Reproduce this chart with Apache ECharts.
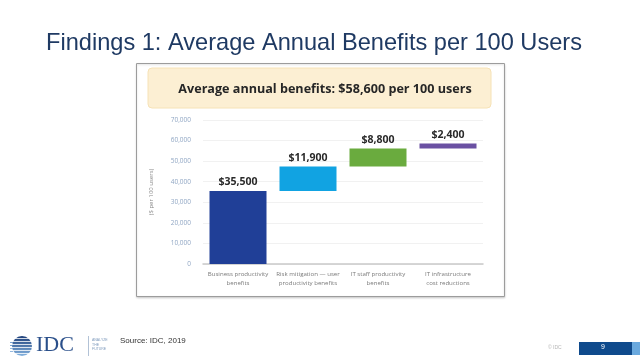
<!DOCTYPE html>
<html>
<head>
<meta charset="utf-8">
<script src="https://cdn.jsdelivr.net/npm/echarts@6/dist/echarts.min.js"></script>
<style>
  html, body { margin: 0; padding: 0; background: #fff; }
  #main { width: 640px; height: 360px; }
</style>
</head>
<body>
<div id="main"></div>
<script>
// data
const categories = [
  'Business productivity\nbenefits',
  'Risk mitigation \u2014 user\nproductivity benefits',
  'IT staff productivity\nbenefits',
  'IT infrastructure\ncost reductions'
];
const benefits = [35500, 11900, 8800, 2400];
const barColors = ['#203f97', '#11a3e2', '#6aab3e', '#6a50a2'];
const yTicks = [0, 10000, 20000, 30000, 40000, 50000, 60000, 70000];

// waterfall base = running total of previous steps
const base = [];
let run = 0;
benefits.forEach(v => { base.push(run); run += v; });

const fmt = n => n.toLocaleString('en-US');

const chart = echarts.init(document.getElementById('main'));

chart.setOption({
  animation: false,
  backgroundColor: '#ffffff',
  title: [
    {
      text: 'Findings 1: Average Annual Benefits per 100 Users',
      left: 41,
      top: 26,
      textStyle: {
        fontFamily: 'Liberation Sans',
        fontSize: 23.6,
        fontWeight: 'normal',
        color: '#1f3a63'
      }
    },
    {
      text: 'Average annual benefits: $58,600 per 100 users',
      left: 320,
      top: 78,
      textAlign: 'center',
      textStyle: {
        fontFamily: 'Open Sans',
        fontSize: 12.6,
        fontWeight: 'bold',
        color: '#262626'
      }
    }
  ],
  graphic: [
    // picture frame
    { type: 'rect', z: -10, shape: { x: 136.5, y: 63.5, width: 368, height: 233 },
      style: { fill: '#fff', stroke: '#9c9c9c', lineWidth: 1, shadowBlur: 2, shadowColor: 'rgba(0,0,0,0.15)', shadowOffsetY: 1 } },
    // banner
    { type: 'rect', z: -5, shape: { x: 148, y: 68, width: 343, height: 40, r: 4 },
      style: { fill: '#fcefd3', stroke: '#f6e2b6', lineWidth: 1 } },
    // IDC globe stripes
    { type: 'group', left: 9, top: 336, children: [
      { type: 'circle', shape: { cx: 13, cy: 10, r: 10 },
        style: { fill: new echarts.graphic.LinearGradient(0, 0, 0, 1, [
          { offset: 0, color: '#1b3d78' }, { offset: 1, color: '#86b4e0' }]) } },
      { type: 'rect', shape: { x: 0, y: 2, width: 26, height: 0.8 }, style: { fill: '#fff' } },
      { type: 'rect', shape: { x: 0, y: 5, width: 26, height: 0.8 }, style: { fill: '#fff' } },
      { type: 'rect', shape: { x: 0, y: 8, width: 26, height: 0.8 }, style: { fill: '#fff' } },
      { type: 'rect', shape: { x: 0, y: 11, width: 26, height: 0.8 }, style: { fill: '#fff' } },
      { type: 'rect', shape: { x: 0, y: 14, width: 26, height: 0.8 }, style: { fill: '#fff' } },
      { type: 'rect', shape: { x: 0, y: 17, width: 26, height: 0.8 }, style: { fill: '#fff' } },
      { type: 'rect', shape: { x: 1, y: 6, width: 3, height: 0.8 }, style: { fill: '#5d8fc6' } },
      { type: 'rect', shape: { x: 1, y: 9, width: 3, height: 0.8 }, style: { fill: '#5d8fc6' } },
      { type: 'rect', shape: { x: 1, y: 12, width: 3, height: 0.8 }, style: { fill: '#7aa8d8' } },
      { type: 'rect', shape: { x: 1, y: 15, width: 3, height: 0.8 }, style: { fill: '#7aa8d8' } }
    ] },
    { type: 'text', left: 36, top: 334,
      style: { text: 'IDC', font: '22px "Liberation Serif"', fill: '#2a4f8a' } },
    { type: 'rect', shape: { x: 88, y: 336, width: 0.8, height: 20 }, style: { fill: '#9fb3cc' } },
    { type: 'text', left: 92, top: 338,
      style: { text: 'ANALYZE\nTHE\nFUTURE', font: '3.5px "Liberation Sans"', fill: '#7f9bbd', lineHeight: 4.5 } },
    { type: 'text', left: 120, top: 337,
      style: { text: 'Source: IDC, 2019', font: '8px "Liberation Sans"', fill: '#333' } },
    { type: 'text', left: 548, top: 345,
      style: { text: '\u00a9 IDC', font: '5px "Liberation Sans"', fill: '#b5b5b5' } },
    { type: 'rect', shape: { x: 579, y: 342, width: 53, height: 13 }, style: { fill: '#0f4a8c' } },
    { type: 'rect', shape: { x: 632, y: 342, width: 8, height: 13 }, style: { fill: '#6aa9de' } },
    { type: 'text', left: 601, top: 344,
      style: { text: '9', font: '7px "Liberation Sans"', fill: '#fff' } }
  ],
  grid: { left: 203, right: 157, top: 120, bottom: 96 },
  xAxis: {
    type: 'category',
    data: categories,
    axisTick: { show: false },
    axisLine: { lineStyle: { color: '#c9c9c9', width: 1.5 } },
    axisLabel: {
      interval: 0,
      margin: 6,
      fontFamily: 'Open Sans',
      fontSize: 6.1,
      lineHeight: 9,
      color: '#7a7a7a'
    }
  },
  yAxis: {
    type: 'value',
    min: 0,
    max: yTicks[yTicks.length - 1],
    interval: 10000,
    name: '($ per 100 users)',
    nameLocation: 'middle',
    nameRotate: 90,
    nameGap: 49,
    nameTextStyle: { fontFamily: 'Open Sans', fontSize: 6, color: '#8a8a8a' },
    axisLine: { show: false },
    axisTick: { show: false },
    splitLine: { lineStyle: { color: '#f1f1f1', width: 1 } },
    axisLabel: {
      margin: 12,
      fontFamily: 'Open Sans',
      fontSize: 6.5,
      color: '#91a7c4',
      formatter: v => fmt(v)
    }
  },
  series: [
    {
      type: 'bar',
      stack: 'w',
      data: base,
      barWidth: 57,
      itemStyle: { color: 'transparent' },
      silent: true
    },
    {
      type: 'bar',
      stack: 'w',
      barWidth: 57,
      data: benefits.map((v, i) => ({ value: v, itemStyle: { color: barColors[i] } })),
      label: {
        show: true,
        position: 'top',
        distance: 3,
        fontFamily: 'Open Sans',
        fontWeight: 'bold',
        fontSize: 10.5,
        color: '#2a2a2a',
        formatter: p => '$' + fmt(p.value)
      }
    }
  ]
});

window.addEventListener('resize', chart.resize);
</script>
</body>
</html>
